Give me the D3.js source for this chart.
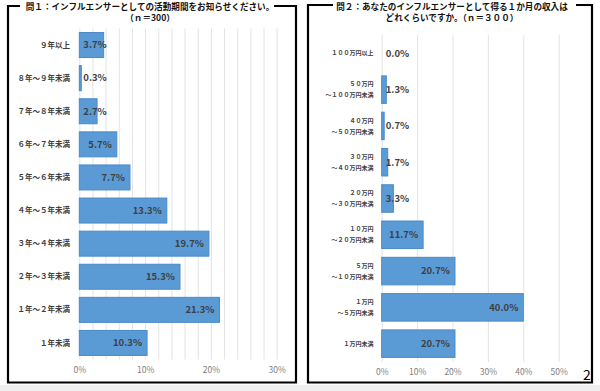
<!DOCTYPE html>
<html><head><meta charset="utf-8">
<script src="https://cdn.jsdelivr.net/npm/d3@7"></script>
<style>
html,body{margin:0;padding:0;background:#fff;}
svg{display:block;}
text{font-family:"Noto Sans CJK JP","Noto Sans",sans-serif;}
</style></head>
<body>
<svg id="c" width="600" height="391"></svg>
<script>
// ---- data ----
const title1 = ["問１：インフルエンサーとしての活動期間をお知らせください。", "（ｎ＝300）"];
const categories1 = ["９年以上","８年～９年未満","７年～８年未満","６年～７年未満","５年～６年未満","４年～５年未満","３年～４年未満","２年～３年未満","１年～２年未満","１年未満"];
const values1 = [3.7,0.3,2.7,5.7,7.7,13.3,19.7,15.3,21.3,10.3];
const ticks1 = [0,10,20,30];
const grid1 = [0,2,4,6,8,10,12,14,16,18,20,22,24,26,28,30];

const title2 = ["問２：あなたのインフルエンサーとして得る１か月の収入は", "どれくらいですか。（ｎ＝３００）"];
const categories2 = [["１００万円以上"],["５０万円","～１００万円未満"],["４０万円","～５０万円未満"],["３０万円","～４０万円未満"],["２０万円","～３０万円未満"],["１０万円","～２０万円未満"],["５万円","～１０万円未満"],["１万円","～５万円未満"],["１万円未満"]];
const values2 = [0.0,1.3,0.7,1.7,3.3,11.7,20.7,40.0,20.7];
const ticks2 = [0,10,20,30,40,50];
const pageNumber = "2";

const svg = d3.select("#c");
const BAR = "#5B9BD5", BARSTROKE = "#4A89C9", LBL = "#404040", TICK = "#808080", GRID = "#e3e3e3";

// bottom grey strip
svg.append("rect").attr("x",0).attr("y",385).attr("width",600).attr("height",6).attr("fill","#efefef");

function panel(o){
  const g = svg.append("g");
  // frame
  g.append("path").attr("d",
    `M${o.fx0+o.tl},${o.fy0} L${o.fx0},${o.fy0} L${o.fx0},${o.fy1} L${o.fx1},${o.fy1} L${o.fx1},${o.fy0} L${o.fx1-o.tr},${o.fy0}`)
    .attr("fill","none").attr("stroke","#000").attr("stroke-width",2.2);
  // title
  o.title.forEach((t,i)=>{
    g.append("text").attr("x",o.tx).attr("y",o.ty + i*11).attr("text-anchor","middle")
      .attr("font-size",8.6).attr("font-weight","bold").attr("fill","#111").text(t);
  });
  const x = d3.scaleLinear().domain(o.xdom).range(o.xr);
  const y = d3.scaleBand().domain(o.cats.map((d,i)=>i)).range(o.yr).paddingInner(o.pad).paddingOuter(o.pad/2);
  // grid
  g.selectAll(".gl").data(o.grid).join("line")
    .attr("x1",d=>x(d)+0.5).attr("x2",d=>x(d)+0.5).attr("y1",o.yr[0]).attr("y2",o.yr[1])
    .attr("stroke",GRID).attr("stroke-width",1);
  // axis tick labels
  const ax = d3.axisBottom(x).tickValues(o.ticks).tickFormat(d=>d+"%").tickSize(0).tickPadding(0);
  const axg = g.append("g").attr("transform",`translate(0,${o.ay})`).call(ax);
  axg.select(".domain").remove();
  axg.selectAll("text").attr("fill",TICK).attr("font-size",8.5).attr("dy","0.35em")
     .attr("font-family","'Noto Sans CJK JP',sans-serif");
  // bars
  g.selectAll(".bar").data(o.vals).join("rect")
    .attr("x",x(0)).attr("y",(d,i)=>y(i)).attr("width",d=>Math.max(0,x(d)-x(0)))
    .attr("height",y.bandwidth()).attr("fill",BAR)
    .attr("stroke",d=>d>0?BARSTROKE:"none").attr("stroke-width",1);
  // value labels
  g.selectAll(".vl").data(o.vals).join("text")
    .attr("y",(d,i)=>y(i)+y.bandwidth()/2).attr("dy","0.35em")
    .attr("font-size",9.5).attr("font-weight","bold").attr("fill",LBL)
    .text(d=>d.toFixed(1)+"%")
    .each(function(d){
      const w = this.getComputedTextLength();
      const end = x(d)-5;
      const xx = Math.max(x(0)+4, end-w);
      d3.select(this).attr("x",xx);
    });
  // category labels
  o.cats.forEach((c,i)=>{
    const lines = Array.isArray(c)?c:[c];
    const cy = y(i)+y.bandwidth()/2;
    lines.forEach((t,j)=>{
      g.append("text").attr("x",o.lx).attr("y",cy + (j-(lines.length-1)/2)*o.lh)
        .attr("dy","0.35em").attr("text-anchor","end").attr("font-size",o.lfs)
        .attr("fill",LBL).attr("font-weight","bold").text(t);
    });
  });
}

panel({fx0:8,fx1:296,fy0:6,fy1:382.5,tl:12,tr:22,title:title1,tx:150,ty:10,
  xdom:[0,30],xr:[79.3,276.7],yr:[28.5,359.5],pad:0.245,grid:grid1,ticks:ticks1,ay:370,
  vals:values1,cats:categories1,lx:70,lfs:7.5,lh:0});

panel({fx0:308,fx1:592,fy0:5,fy1:382.5,tl:25,tr:16,title:title2,tx:452,ty:10,
  xdom:[0,50],xr:[381.7,558.7],yr:[35.2,361.8],pad:0.242,grid:ticks2,ticks:ticks2,ay:372,
  vals:values2,cats:categories2,lx:373.5,lfs:6,lh:11});

svg.append("text").attr("x",587).attr("y",380).attr("text-anchor","middle")
  .attr("font-size",14).attr("fill","#000").attr("font-family","'Liberation Sans',Arial,sans-serif").text(pageNumber);
</script>
</body></html>
